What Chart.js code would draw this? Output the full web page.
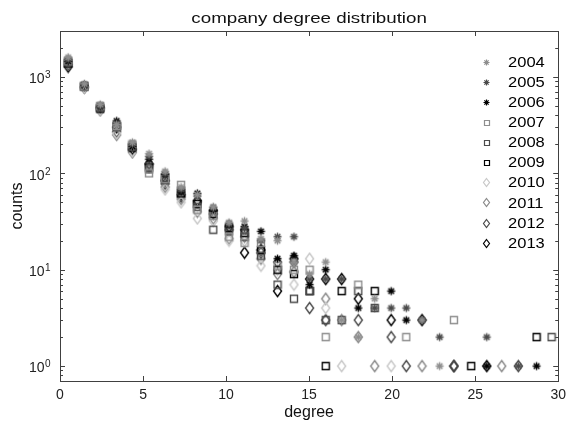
<!DOCTYPE html>
<html>
<head>
<meta charset="utf-8">
<script src="https://cdn.jsdelivr.net/npm/chart.js@4/dist/chart.umd.min.js"></script>
<style>
  html, body { margin: 0; padding: 0; background: #fff; }
</style>
</head>
<body>
<canvas id="myChart" width="572" height="425"></canvas>
<script>
// bin centres along the degree axis (shared by every year)
var degree = [0.49, 1.47, 2.42, 3.41, 4.36, 5.36, 6.33, 7.29, 8.27, 9.23, 10.18, 11.11, 12.1, 13.1, 14.09, 15.03,
              16.0, 16.96, 17.96, 18.95, 19.94, 20.85, 21.8, 22.86, 23.72, 24.76, 25.7, 26.6, 27.6, 28.7, 29.6];

var years = ['2004', '2005', '2006', '2007', '2008', '2009', '2010', '2011', '2012', '2013'];

// counts per bin, null = empty bin (not drawn on a log axis)
var c2004 = [1600, 850, 520, 320, 210, 160, 105, 72, 60, 45, 31, 32, 21, 20, 12, 9, 12, 3, 2, 5, null, null, 3, 1, null, null, null, null, null, null, null];
var c2005 = [1520, 830, 500, 330, 200, 150, 100, 68, 58, 44, 30, 27, 20, 22, 22, 8, 8, 8, null, 4, 4, 4, null, 2, null, null, 2, null, 1, null, null];
var c2006 = [1450, 820, 490, 350, 190, 140, 98, 64, 62, 42, 29, 28, 25, 13, 14, 7, 10, null, 4, null, 6, 3, 3, null, null, null, 1, null, null, 1, null];
var c2007 = [1480, 800, 500, 310, 200, 100, 88, 76, 42, 36, 22, 19, 19, 11, 10, 10, 2, null, 7, null, null, 2, null, null, 3, null, null, null, null, null, null];
var c2008 = [1420, 790, 480, 300, 190, 110, 85, 66, 45, 26, 25, 22, 14, 7, 5, 6, 3, 3, 6, 4, null, null, null, null, null, null, null, null, null, null, 2];
var c2009 = [1380, 800, 470, 310, 185, 115, 90, 62, 48, 38, 27, 24, 16, 10, 9, 6, 1, 6, null, 6, null, null, null, null, null, 1, null, null, null, 2, null];
var c2010 = [1500, 780, 460, 260, 170, 115, 68, 50, 34, 32, 20, 20, 11, 10, 7, 13, 4, 1, null, null, 1, null, null, null, null, null, null, null, null, null, null];
var c2011 = [1420, 770, 450, 250, 165, 120, 72, 54, 40, 34, 21, 22, 13, 9, 9.5, null, 5, 3, 2, 1, null, null, 1, null, null, null, null, 1, null, null, null];
var c2012 = [1350, 780, 470, 270, 175, 125, 78, 57, 50, 38, 26, 26, 15, 12, 12, 4, 3, null, 3, null, 2, 1, null, null, 1, null, null, null, 1, null, null];
var c2013 = [1280, 790, 480, 300, 180, 125, 84, 60, 52, 41, 28, 15, 16, 6, 13, 8, 8, 8, 5, null, 3, null, 3, null, 1, null, 1, null, null, null, null];

var counts = [c2004, c2005, c2006, c2007, c2008, c2009, c2010, c2011, c2012, c2013];
var shapes = ['star', 'star', 'star', 'square', 'square', 'square', 'diamond', 'diamond', 'diamond', 'diamond'];
var colors = ['#8e8e8e', '#4a4a4a', '#000000', '#8e8e8e', '#4a4a4a', '#000000', '#c8c8c8', '#8a8a8a', '#4a4a4a', '#000000'];

var FONT = '"Liberation Sans", Arial, sans-serif';

// marker images, drawn once
function marker(shape, color, w, h, lw) {
  var c = document.createElement('canvas');
  c.width = w + 3; c.height = h + 3;
  var g = c.getContext('2d');
  var cx = c.width / 2, cy = c.height / 2;
  g.strokeStyle = color;
  g.lineWidth = lw;
  g.beginPath();
  if (shape == 'star') {
    for (var a = 0; a < 4; a++) {
      var t = a * Math.PI / 4;
      g.moveTo(cx - Math.cos(t) * w / 2, cy - Math.sin(t) * h / 2);
      g.lineTo(cx + Math.cos(t) * w / 2, cy + Math.sin(t) * h / 2);
    }
  } else if (shape == 'square') {
    g.rect(cx - w / 2, cy - h / 2, w, h);
  } else {
    g.moveTo(cx, cy - h / 2);
    g.lineTo(cx + w / 2, cy);
    g.lineTo(cx, cy + h / 2);
    g.lineTo(cx - w / 2, cy);
    g.closePath();
  }
  g.stroke();
  return c;
}

function plotMarker(i) {
  if (shapes[i] == 'star') return marker('star', colors[i], 8, 8, 1.4);
  if (shapes[i] == 'square') return marker('square', colors[i], 7, 7, 1.4);
  return marker('diamond', colors[i], 8, 11, 1.4);
}
function legendMarker(i) {
  if (shapes[i] == 'star') return marker('star', colors[i], 6, 6, 1.2);
  if (shapes[i] == 'square') return marker('square', colors[i], 5, 5, 1.2);
  return marker('diamond', colors[i], 6, 8, 1.2);
}

var datasets = years.map(function (y, i) {
  var pts = [];
  degree.forEach(function (d, k) {
    if (counts[i][k] != null) pts.push({ x: d, y: counts[i][k] });
  });
  return {
    label: y,
    data: pts,
    pointStyle: plotMarker(i),
    legendStyle: legendMarker(i),
    showLine: false,
    clip: false
  };
});

function stretchText(ctx, text, x, y, sx, align) {
  ctx.save();
  ctx.translate(x, y);
  ctx.scale(sx, 1);
  ctx.textAlign = align;
  ctx.fillText(text, 0, 0);
  ctx.restore();
}

var decor = {
  id: 'decor',
  beforeDatasetsDraw: function (chart) {
    var ctx = chart.ctx, a = chart.chartArea;
    var xs = chart.scales.x, ys = chart.scales.y;
    ctx.save();
    ctx.strokeStyle = '#404040';
    ctx.lineWidth = 1;
    ctx.strokeRect(Math.round(a.left) + 0.5, Math.round(a.top) + 0.5,
                   Math.round(a.right - a.left), Math.round(a.bottom - a.top));
    ctx.beginPath();
    // x ticks, inward on bottom and top
    for (var v = 0; v <= 30; v += 5) {
      var px = Math.round(xs.getPixelForValue(v)) + 0.5;
      ctx.moveTo(px, a.bottom); ctx.lineTo(px, a.bottom - 5);
      ctx.moveTo(px, a.top); ctx.lineTo(px, a.top + 5);
    }
    // y ticks, log decades with minor ticks
    for (var e = -1; e <= 3; e++) {
      for (var m = 1; m <= 9; m++) {
        var val = m * Math.pow(10, e);
        if (val < ys.min || val > ys.max) continue;
        var py = Math.round(ys.getPixelForValue(val)) + 0.5;
        var len = m == 1 ? 5 : 3;
        ctx.moveTo(a.left, py); ctx.lineTo(a.left + len, py);
        ctx.moveTo(a.right, py); ctx.lineTo(a.right - len, py);
      }
    }
    ctx.stroke();

    // y tick labels 10^k
    ctx.fillStyle = '#222';
    for (var k = 0; k <= 3; k++) {
      var ty = ys.getPixelForValue(Math.pow(10, k));
      ctx.font = '14px ' + FONT;
      ctx.textAlign = 'left';
      ctx.textBaseline = 'alphabetic';
      ctx.fillText('10', 29, ty + 6.3);
      var w = ctx.measureText('10').width;
      ctx.font = '10px ' + FONT;
      ctx.fillText(String(k), 29 + w + 0.5, ty + 1.3);
    }

    // titles
    ctx.fillStyle = '#111';
    ctx.font = '15px ' + FONT;
    ctx.textBaseline = 'alphabetic';
    stretchText(ctx, 'company degree distribution', (a.left + a.right) / 2, 23, 1.25, 'center');
    ctx.font = '16px ' + FONT;
    ctx.textBaseline = 'middle';
    stretchText(ctx, 'degree', (a.left + a.right) / 2, 413, 1.0, 'center');
    ctx.save();
    ctx.translate(18, (a.top + a.bottom) / 2);
    ctx.rotate(-Math.PI / 2);
    ctx.textAlign = 'center';
    ctx.fillText('counts', 0, 0);
    ctx.restore();
    ctx.restore();
  },
  afterDatasetsDraw: function (chart) {
    var ctx = chart.ctx;
    ctx.save();
    ctx.fillStyle = '#000';
    ctx.font = '14px ' + FONT;
    ctx.textBaseline = 'alphabetic';
    chart.data.datasets.forEach(function (ds, i) {
      var cy = 62.2 + 20.1 * i;
      var img = ds.legendStyle;
      ctx.drawImage(img, Math.round(486.7 - img.width / 2), Math.round(cy - img.height / 2));
      stretchText(ctx, ds.label, 508, cy + 4.6, 1.18, 'left');
    });
    ctx.restore();
  }
};

var ctx = document.getElementById('myChart').getContext('2d');
var chart = new Chart(ctx, {
  type: 'scatter',
  data: { datasets: datasets },
  options: {
    responsive: false,
    animation: false,
    events: [],
    layout: { padding: { top: 31, right: 8, left: 0, bottom: 0 } },
    plugins: { legend: { display: false }, title: { display: false }, tooltip: { enabled: false } },
    scales: {
      x: {
        type: 'linear', min: 0, max: 30,
        afterFit: function (s) { s.height = 44; },
        afterBuildTicks: function (s) { s.ticks = [0, 5, 10, 15, 20, 25, 30].map(function (v) { return { value: v }; }); },
        ticks: { font: { family: FONT, size: 14 }, color: '#222', padding: 6, maxRotation: 0 },
        grid: { display: false, drawTicks: false },
        border: { display: false }
      },
      y: {
        type: 'logarithmic', min: 0.7, max: 3000,
        afterFit: function (s) { s.width = 60; },
        ticks: { display: false },
        grid: { display: false, drawTicks: false },
        border: { display: false }
      }
    }
  },
  plugins: [decor]
});
</script>
</body>
</html>
